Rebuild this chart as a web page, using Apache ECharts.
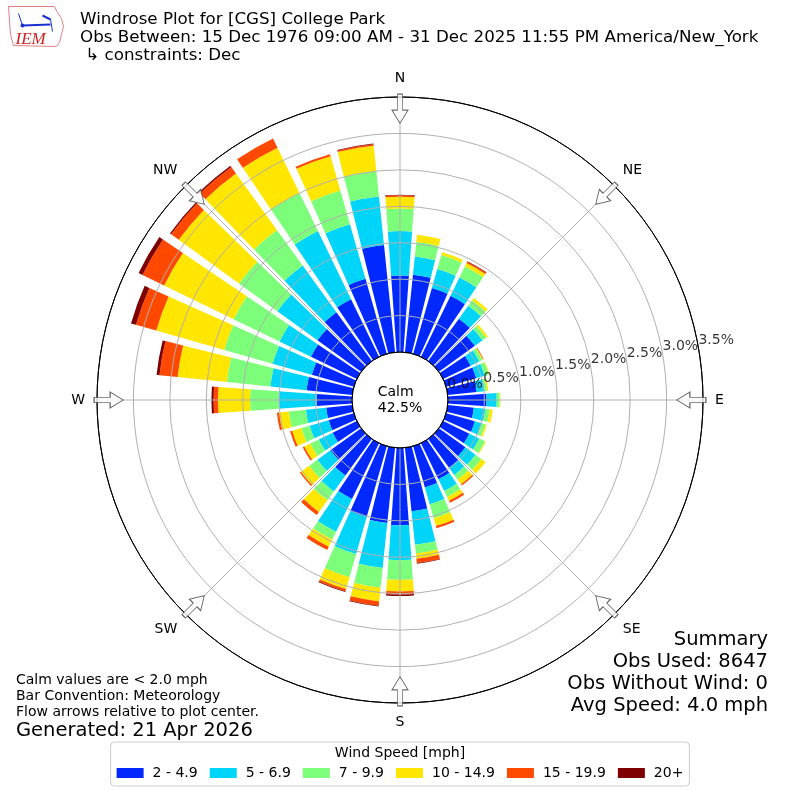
<!DOCTYPE html>
<html>
<head>
<meta charset="utf-8">
<title>Windrose Plot for [CGS] College Park</title>
<script src="https://cdn.jsdelivr.net/npm/echarts@6.0.0/dist/echarts.min.js"></script>
<style>
  html, body { margin: 0; padding: 0; background: #fff; }
  #chart { width: 800px; height: 800px; }
</style>
</head>
<body>
<div id="chart"></div>
<script>
// direction bins, degrees clockwise from north
const directions = [0, 10, 20, 30, 40, 50, 60, 70, 80, 90, 100, 110, 120, 130, 140, 150, 160, 170,
    180, 190, 200, 210, 220, 230, 240, 250, 260, 270, 280, 290, 300, 310, 320, 330, 340, 350];

const speedBins = ['2 - 4.9', '5 - 6.9', '7 - 9.9', '10 - 14.9', '15 - 19.9', '20+'];
const binColors = ['#0028ff', '#00d4f8', '#7dfe7a', '#ffe600', '#ff4800', '#7f0000'];

// frequency (%) of each speed bin per direction
const pct2to5 = [1.05, 1.07, 0.94, 0.93, 0.72, 0.61, 0.42, 0.43, 0.40, 0.53, 0.36, 0.41, 0.40, 0.45, 0.49, 0.55, 0.59, 0.875,
    1.06, 1.04, 1.01, 0.85, 0.62, 0.52, 0.37, 0.36, 0.36, 0.485, 0.63, 0.60, 0.70, 0.74, 0.83, 0.88, 1.07, 1.48];
const pct5to7 = [0.61, 0.25, 0.27, 0.28, 0.22, 0.13, 0.13, 0.12, 0.11, 0.14, 0.16, 0.10, 0.15, 0.17, 0.12, 0.18, 0.24, 0.465,
    0.48, 0.62, 0.53, 0.50, 0.27, 0.22, 0.21, 0.27, 0.28, 0.525, 0.50, 0.56, 0.48, 0.68, 0.79, 1.04, 0.78, 0.67];
const pct7to10 = [0.31, 0.20, 0.20, 0.17, 0.09, 0.06, 0.05, 0.06, 0.03, 0.04, 0.06, 0.05, 0.09, 0.10, 0.08, 0.09, 0.20, 0.12,
    0.27, 0.27, 0.33, 0.12, 0.15, 0.14, 0.13, 0.12, 0.235, 0.39, 0.60, 0.69, 0.70, 0.65, 0.60, 0.58, 0.48, 0.35];
const pct10to15 = [0.16, 0.10, 0.04, 0.05, 0.04, 0.03, 0.01, 0.01, 0.02, 0.01, 0.04, 0.02, 0.01, 0.07, 0.08, 0.06, 0.11, 0.07,
    0.16, 0.19, 0.17, 0.11, 0.20, 0.14, 0.09, 0.13, 0.135, 0.44, 0.68, 0.97, 1.06, 1.02, 0.96, 0.69, 0.49, 0.35];
const pct15to20 = [0.02, 0, 0, 0.02, 0, 0, 0.01, 0, 0, 0, 0, 0, 0, 0, 0.02, 0.03, 0.03, 0.06,
    0.04, 0.06, 0.03, 0.05, 0.05, 0.02, 0.025, 0.03, 0.03, 0.06, 0.25, 0.29, 0.33, 0.13, 0.11, 0.14, 0.03, 0.02];
const pct20plus = [0.01, 0, 0, 0.01, 0, 0, 0, 0, 0, 0, 0, 0, 0, 0, 0, 0, 0, 0.01,
    0.02, 0.01, 0.01, 0, 0, 0, 0, 0, 0, 0.03, 0.04, 0.07, 0.06, 0.02, 0.02, 0, 0, 0.01];

const compassAngles = [0, 45, 90, 135, 180, 225, 270, 315];
const compassNames = ['N', 'NE', 'E', 'SE', 'S', 'SW', 'W', 'NW'];
const ringTicks = [0, 0.5, 1.0, 1.5, 2.0, 2.5, 3.0, 3.5];

const titleLines = [
    'Windrose Plot for [CGS] College Park',
    'Obs Between: 15 Dec 1976 09:00 AM - 31 Dec 2025 11:55 PM America/New_York',
    ' \u21b3 constraints: Dec'
];
const noteLines = ['Calm values are < 2.0 mph', 'Bar Convention: Meteorology', 'Flow arrows relative to plot center.'];
const summaryLines = ['Summary', 'Obs Used: 8647', 'Obs Without Wind: 0', 'Avg Speed: 4.0 mph'];
const calmText = 'Calm\n42.5%';

const FONT = 'DejaVu Sans';
const binData = [pct2to5, pct5to7, pct7to10, pct10to15, pct15to20, pct20plus];

const chart = echarts.init(document.getElementById('chart'));

const barSeries = speedBins.map((name, i) => ({
    name: name,
    type: 'bar',
    coordinateSystem: 'polar',
    polarIndex: 0,
    stack: 'wind',
    barCategoryGap: '18%',
    itemStyle: {color: binColors[i]},
    emphasis: {disabled: true},
    data: binData[i]
}));

const arrowPath = 'path://M8 0 L16 13 L10.6 13 L10.6 29 L5.4 29 L5.4 13 L0 13 Z';

// summary block, right aligned, one text per line
const summaryGraphics = summaryLines.map((line, i) => ({
    type: 'text', x: 768, y: 640 + i * 22, z: 20,
    style: {text: line, fill: '#000', font: '19.5px ' + FONT, align: 'right', verticalAlign: 'middle'}
}));

const option = {
    animation: false,
    textStyle: {fontFamily: FONT},
    title: {
        text: titleLines.join('\n'),
        left: 80,
        top: 11,
        padding: 0,
        textStyle: {fontSize: 16.7, fontWeight: 'normal', color: '#000', lineHeight: 18, fontFamily: FONT}
    },
    legend: {
        data: speedBins,
        left: 'center',
        top: 742,
        orient: 'horizontal',
        icon: 'rect',
        itemWidth: 27,
        itemHeight: 10,
        itemGap: 12,
        padding: [24, 6, 6, 6],
        backgroundColor: '#fff',
        borderColor: '#cccccc',
        borderWidth: 1,
        borderRadius: 4,
        selectedMode: false,
        textStyle: {fontSize: 14, color: '#000', fontFamily: FONT, padding: [0, 0, 0, 4]}
    },
    polar: [
        {center: ['50%', '50%'], radius: [48, 303]},
        {center: ['50%', '50%'], radius: [48, 303]}
    ],
    angleAxis: [
        {
            polarIndex: 0, type: 'category', data: directions,
            startAngle: 95, clockwise: true, show: false
        },
        {
            polarIndex: 1, type: 'value', min: 0, max: 360, interval: 45,
            startAngle: 90, clockwise: true, z: 10,
            axisLine: {show: true, lineStyle: {color: '#000', width: 1}},
            axisTick: {show: false},
            splitLine: {show: true, lineStyle: {color: '#b0b0b0', width: 1}},
            axisLabel: {
                margin: 12, fontSize: 14, color: '#000', fontFamily: FONT,
                formatter: v => (v >= 360 ? '' : compassNames[compassAngles.indexOf(v)])
            }
        }
    ],
    radiusAxis: [
        {polarIndex: 0, type: 'value', min: 0, max: 3.5, show: false},
        {
            polarIndex: 1, type: 'value', min: 0, max: 3.5, interval: 0.5, z: 10,
            axisLine: {show: false},
            axisTick: {show: false},
            axisLabel: {show: false},
            splitLine: {
                show: true,
                lineStyle: {
                    color: ['#000', '#b0b0b0', '#b0b0b0', '#b0b0b0', '#b0b0b0', '#b0b0b0', '#b0b0b0', '#000'],
                    width: 1
                }
            }
        }
    ],
    series: barSeries.concat([
        {
            // radial tick labels along the 80 degree ray
            type: 'scatter',
            coordinateSystem: 'polar',
            polarIndex: 1,
            z: 12,
            symbol: 'circle',
            symbolSize: 1,
            silent: true,
            itemStyle: {color: 'rgba(0,0,0,0)'},
            label: {
                show: true, position: 'inside', align: 'left', verticalAlign: 'bottom',
                fontSize: 14, color: '#000', fontFamily: FONT,
                formatter: p => p.value[0].toFixed(1) + '%'
            },
            data: ringTicks.map(t => [t, 80])
        },
        {
            // flow arrows on the outer ring
            type: 'scatter',
            coordinateSystem: 'polar',
            polarIndex: 1,
            z: 14,
            silent: true,
            symbol: arrowPath,
            symbolSize: [16, 29],
            symbolRotate: (v) => 180 - v[1],
            itemStyle: {color: '#fff', borderColor: '#444', borderWidth: 1},
            data: compassAngles.map(a => [3.34, a])
        }
    ]),
    graphic: [
        {
            type: 'text', left: 'center', top: 'middle', z: 20,
            style: {text: calmText, fill: '#000', align: 'center', font: '14px ' + FONT, lineHeight: 16}
        },
        {
            type: 'text', left: 'center', top: 746, z: 100,
            style: {text: 'Wind Speed [mph]', fill: '#000', font: '14px ' + FONT}
        },
        {
            type: 'text', left: 16, top: 672, z: 20,
            style: {text: noteLines.join('\n'), fill: '#000', font: '14px ' + FONT, lineHeight: 16}
        },
        {
            type: 'text', left: 16, top: 721, z: 20,
            style: {text: 'Generated: 21 Apr 2026', fill: '#000', font: '19.5px ' + FONT}
        },
        {
            // IEM logo, rough
            type: 'group', left: 6, top: 4, z: 20,
            children: [
                {
                    type: 'polyline',
                    shape: {points: [[2, 2], [48, 2], [51, 8], [55, 14], [57, 22], [55, 30], [53, 38], [50, 42], [7, 41], [4, 30], [2, 2]]},
                    style: {stroke: '#e08080', lineWidth: 1, fill: null}
                },
                {type: 'line', shape: {x1: 16, y1: 21, x2: 44, y2: 20}, style: {stroke: '#1a2fd0', lineWidth: 2}},
                {type: 'line', shape: {x1: 12, y1: 9, x2: 16, y2: 21}, style: {stroke: '#1a2fd0', lineWidth: 1}},
                {type: 'line', shape: {x1: 36, y1: 11, x2: 44, y2: 15}, style: {stroke: '#1a2fd0', lineWidth: 2}},
                {type: 'line', shape: {x1: 44, y1: 15, x2: 46, y2: 27}, style: {stroke: '#1a2fd0', lineWidth: 1}},
                {type: 'circle', shape: {cx: 16, cy: 21, r: 2}, style: {fill: '#1a2fd0'}},
                {
                    type: 'text', x: 9, y: 27,
                    style: {text: 'IEM', fill: '#cc2020', font: 'italic 17px "Liberation Serif"'}
                }
            ]
        }
    ].concat(summaryGraphics)
};

chart.setOption(option);
</script>
</body>
</html>
